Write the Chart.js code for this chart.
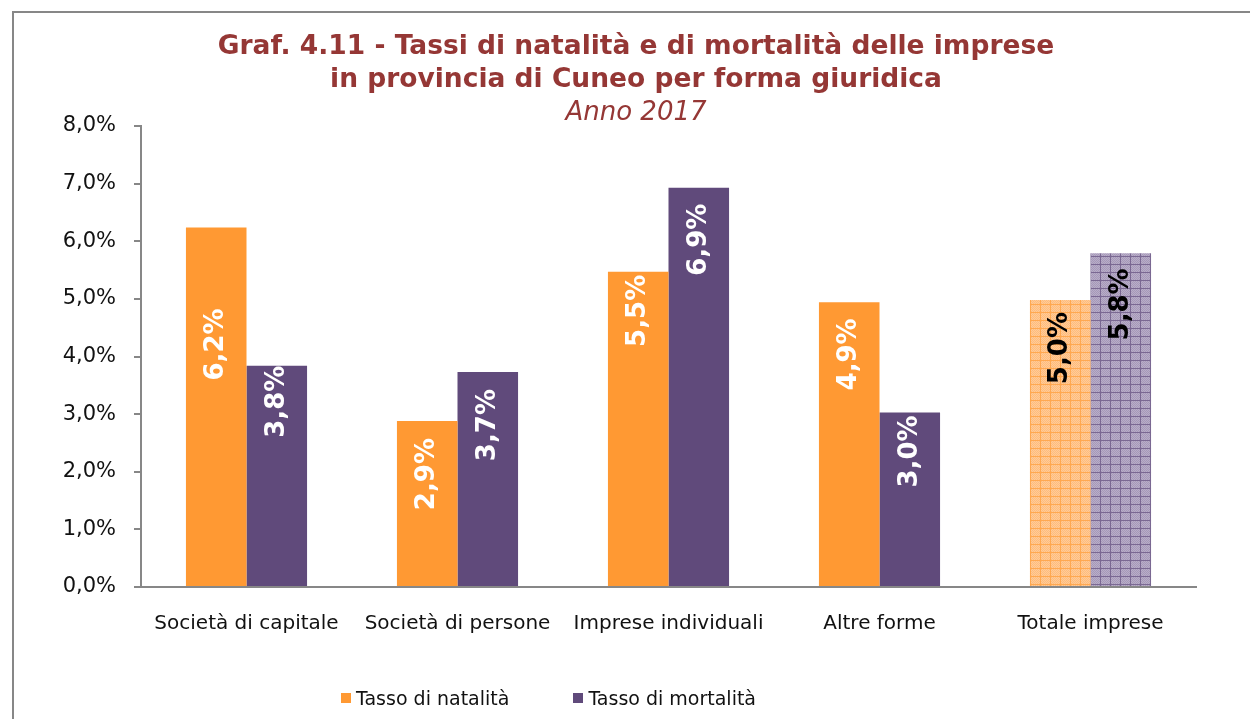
<!DOCTYPE html>
<html>
<head>
<meta charset="utf-8">
<script src="https://cdn.jsdelivr.net/npm/chart.js@4.4.1/dist/chart.umd.min.js"></script>
<style>
  html, body { margin: 0; padding: 0; background: #fff; overflow: hidden; }
  #wrap { position: relative; width: 1250px; height: 719px; }
  #frame {
    position: absolute; left: 12px; top: 11px; width: 1300px; height: 800px;
    border: 2px solid #878787; box-sizing: border-box;
  }
  #legend {
    position: absolute; left: 341px; top: 687px;
    font: 19px 'DejaVu Sans', sans-serif; color: #111; display: flex;
  }
  #legend span.item { display: flex; align-items: center; margin-right: 64px; }
  #legend i { display: inline-block; width: 10px; height: 10px; margin-right: 5px; }
</style>
</head>
<body>
<div id="wrap">
  <div id="frame"></div>
  <canvas id="chart" width="1250" height="719"></canvas>
  <div id="legend"></div>
</div>
<script>
/* Graf. 4.11 — natalità / mortalità imprese, Cuneo 2017 */

const categories = [
  'Società di capitale',
  'Società di persone',
  'Imprese individuali',
  'Altre forme',
  'Totale imprese',
];
const natalita = [6.24, 2.88, 5.47, 4.94, 4.98];
const mortalita = [3.84, 3.73, 6.93, 3.03, 5.79];
const yTicks = [0, 1, 2, 3, 4, 5, 6, 7, 8];

const titleLines = [
  'Graf. 4.11 - Tassi di natalità e di mortalità delle imprese',
  'in provincia di Cuneo per forma giuridica',
];
const subtitle = 'Anno 2017';

const COLORS = {
  orange: '#FF9933',
  purple: '#604A7B',
  orangeLight: '#FFCB98',
  orangeDot: '#FFBC7C',
  orangeLine: '#FFA850',
  purpleLight: '#B8ADC8',
  purpleDot: '#A699B8',
  purpleLine: '#7A6892',
  title: '#953735',
  axis: '#878787',
};

// hatched fill used for the "Totale imprese" bars
function gridPattern(base, dot, line) {
  const c = document.createElement('canvas');
  c.width = 10;
  c.height = 8;
  const g = c.getContext('2d');
  g.fillStyle = base;
  g.fillRect(0, 0, 10, 8);
  g.fillStyle = dot;
  for (let y = 0; y < 8; y++) {
    for (let x = (y % 2); x < 10; x += 2) g.fillRect(x, y, 1, 1);
  }
  g.fillStyle = line;
  g.fillRect(0, 0, 10, 1);
  g.fillRect(0, 0, 1, 8);
  return g.createPattern(c, 'repeat');
}

const ctx = document.getElementById('chart').getContext('2d');
const last = categories.length - 1;
const orangeFill = categories.map((c, i) =>
  i === last ? gridPattern(COLORS.orangeLight, COLORS.orangeDot, COLORS.orangeLine) : COLORS.orange
);
const purpleFill = categories.map((c, i) =>
  i === last ? gridPattern(COLORS.purpleLight, COLORS.purpleDot, COLORS.purpleLine) : COLORS.purple
);

const fmt = v => v.toFixed(1).replace('.', ',') + '%';

// title block, centred a bit right of the canvas like the original
const titleBlock = {
  id: 'titleBlock',
  afterDraw(chart, args, opts) {
    const c = chart.ctx;
    c.save();
    c.fillStyle = COLORS.title;
    c.textAlign = 'center';
    c.textBaseline = 'middle';
    c.font = "bold 26.5px 'DejaVu Sans'";
    c.fillText(titleLines[0], opts.cx, 47);
    c.fillText(titleLines[1], opts.cx, 80);
    c.font = "italic 26px 'DejaVu Sans'";
    c.fillText(subtitle, opts.cx, 113);
    c.restore();
  },
};

// rotated value labels inside the bars
const barLabels = {
  id: 'barLabels',
  afterDatasetsDraw(chart, args, opts) {
    const c = chart.ctx;
    chart.data.datasets.forEach((ds, di) => {
      const meta = chart.getDatasetMeta(di);
      meta.data.forEach((bar, i) => {
        const off = opts.offsets[di][i];
        c.save();
        c.translate(bar.x, bar.y + off);
        c.rotate(-Math.PI / 2);
        c.font = "bold 26px 'DejaVu Sans'";
        c.fillStyle = i === last ? '#000' : '#fff';
        c.textAlign = 'right';
        c.textBaseline = 'middle';
        c.fillText(fmt(ds.data[i]), 0, 0);
        c.restore();
      });
    });
  },
};

Chart.defaults.font.family = "'DejaVu Sans', sans-serif";
Chart.defaults.color = '#111';

new Chart(ctx, {
  type: 'bar',
  data: {
    labels: categories,
    datasets: [
      { label: 'Tasso di natalità', data: natalita, backgroundColor: orangeFill },
      { label: 'Tasso di mortalità', data: mortalita, backgroundColor: purpleFill },
    ],
  },
  options: {
    responsive: false,
    animation: false,
    categoryPercentage: 0.574,
    barPercentage: 1,
    layout: { padding: { left: 0, right: 54, top: 126, bottom: 0 } },
    plugins: {
      legend: { display: false },
      tooltip: { enabled: false },
      titleBlock: { cx: 636 },
      barLabels: {
        offsets: [
          [81, 17, 3, 16, 12],
          [0, 17, 16, 3, 15],
        ],
      },
    },
    scales: {
      x: {
        grid: { display: false, drawTicks: false },
        border: { color: COLORS.axis, width: 2 },
        ticks: { font: { size: 20 }, padding: 25 },
        afterFit: s => { s.height = 132; },
      },
      y: {
        min: 0,
        max: 8,
        afterBuildTicks: s => { s.ticks = yTicks.map(v => ({ value: v })); },
        grid: { drawOnChartArea: false, drawTicks: true, tickLength: 7, color: COLORS.axis, lineWidth: 2 },
        border: { color: COLORS.axis, width: 2 },
        ticks: { font: { size: 21 }, padding: 18, callback: fmt },
        afterFit: s => { s.width = 141; },
      },
    },
  },
  plugins: [barLabels, titleBlock],
});

document.getElementById('legend').innerHTML = [
  ['Tasso di natalità', COLORS.orange],
  ['Tasso di mortalità', COLORS.purple],
].map(([t, col]) => `<span class="item"><i style="background:${col}"></i>${t}</span>`).join('');
</script>
</body>
</html>
